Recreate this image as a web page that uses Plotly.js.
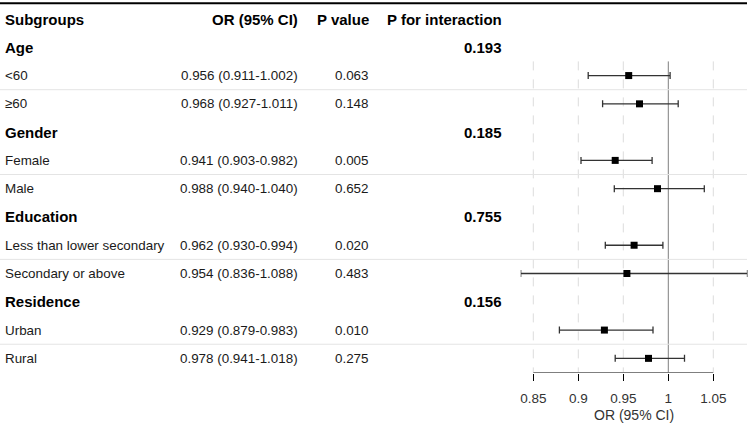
<!DOCTYPE html>
<html><head><meta charset="utf-8">
<script src="https://cdn.plot.ly/plotly-3.0.1.min.js"></script>
<style>html,body{margin:0;padding:0;background:#fff}#chart{width:750px;height:426px}</style>
</head><body><div id="chart"></div>
<script>
// ---- data ----
const groups = ["Age", "Gender", "Education", "Residence"];
const pInteraction = ["0.193", "0.185", "0.755", "0.156"];
const levels = [["<60", "≥60"], ["Female", "Male"], ["Less than lower secondary", "Secondary or above"], ["Urban", "Rural"]];
const orValues = [0.956, 0.968, 0.941, 0.988, 0.962, 0.954, 0.929, 0.978];
const lowerCI = [0.911, 0.927, 0.903, 0.940, 0.930, 0.836, 0.879, 0.941];
const upperCI = [1.002, 1.011, 0.982, 1.040, 0.994, 1.088, 0.983, 1.018];
const pValues = ["0.063", "0.148", "0.005", "0.652", "0.020", "0.483", "0.010", "0.275"];
const headers = ["Subgroups", "OR (95% CI)", "P value", "P for interaction"];
const tickVals = [0.85, 0.9, 0.95, 1, 1.05];
const tickText = ["0.85", "0.9", "0.95", "1", "1.05"];

// ---- layout helpers ----
const W = 750, H = 426;
const FONT = "Liberation Sans, Arial, sans-serif";
const px = v => v / W;
const colX = {sub: px(4), or: px(299), p: px(370), pint: px(503)};

const rows = [];          // row index of each estimate
const annotations = [];
const shapes = [];

function ann(x, y, text, anchor, size, bold, color) {
  annotations.push({xref: 'paper', yref: 'y', x: x, y: y, text: text, xanchor: anchor, yanchor: 'middle',
    showarrow: false, borderpad: 0,
    font: {family: FONT, size: size, color: color, weight: bold ? 700 : 400}});
}

// header
ann(colX.sub, 0, headers[0], 'left', 15, true, '#000');
ann(colX.or, 0, headers[1], 'right', 15, true, '#000');
ann(colX.p, 0, headers[2], 'right', 15, true, '#000');
ann(colX.pint, 0, headers[3], 'right', 15, true, '#000');

let k = 0;
groups.forEach((g, gi) => {
  const gRow = 1 + gi * 3;
  ann(colX.sub, gRow, g, 'left', 15, true, '#000');
  ann(colX.pint, gRow, pInteraction[gi], 'right', 15, true, '#000');
  levels[gi].forEach((lv, li) => {
    const r = gRow + 1 + li;
    rows.push(r);
    ann(colX.sub, r, lv, 'left', 13.4, false, '#1a1a1a');
    const t = orValues[k].toFixed(3) + ' (' + lowerCI[k].toFixed(3) + '-' + upperCI[k].toFixed(3) + ')';
    ann(colX.or, r, t, 'right', 13.4, false, '#1a1a1a');
    ann(colX.p, r, pValues[k], 'right', 13.4, false, '#1a1a1a');
    k++;
  });
  // separator between the two levels
  shapes.push({type: 'line', xref: 'paper', yref: 'y', x0: 0, x1: 747 / W, y0: gRow + 1.5, y1: gRow + 1.5,
    line: {color: '#e4e4e4', width: 1}});
});

// top rule
shapes.push({type: 'line', xref: 'paper', yref: 'y', x0: 0, x1: 747 / W, y0: -0.56, y1: -0.56,
  line: {color: '#000', width: 2}});

// reference / grid lines
tickVals.forEach(v => {
  const isRef = v === 1;
  shapes.push({type: 'line', xref: 'x', yref: 'y', x0: v, x1: v, y0: 1.5, y1: 12.5, layer: 'below',
    line: isRef ? {color: '#7f7f7f', width: 1} : {color: '#dcdcdc', width: 1, dash: 'dash'}});
});
// axis line only across tick span
shapes.push({type: 'line', xref: 'x', yref: 'y', x0: tickVals[0], x1: tickVals[tickVals.length - 1], y0: 12.5, y1: 12.5,
  line: {color: '#000', width: 1}});

const trace = {
  type: 'scatter', mode: 'markers', x: orValues, y: rows, cliponaxis: false, hoverinfo: 'skip',
  marker: {symbol: 'square', size: 7, color: '#000'},
  error_x: {type: 'data', symmetric: false,
    array: upperCI.map((u, i) => u - orValues[i]),
    arrayminus: lowerCI.map((l, i) => orValues[i] - l),
    color: '#333', thickness: 1.3, width: 3.5}
};

const plotBottom = 372.5;
const layout = {
  width: W, height: H, margin: {l: 0, r: 0, t: 0, b: 0, pad: 0},
  paper_bgcolor: '#fff', plot_bgcolor: 'rgba(0,0,0,0)', showlegend: false,
  xaxis: {domain: [520.7 / W, 747.5 / W], range: [lowerCI[5], upperCI[5]], automargin: false,
    showgrid: false, zeroline: false, showline: false,
    tickmode: 'array', tickvals: tickVals, ticktext: tickText,
    ticks: 'outside', ticklen: 7, tickwidth: 1, tickcolor: '#000', ticklabelstandoff: 6,
    tickfont: {family: FONT, size: 13.5, color: '#333'},
    title: {text: 'OR (95% CI)', font: {family: FONT, size: 14, color: '#333'}, standoff: 5}},
  yaxis: {domain: [1 - plotBottom / H, 1], range: [12.5, -19 / 28.28], visible: false, automargin: false},
  annotations: annotations, shapes: shapes
};

Plotly.newPlot('chart', [trace], layout, {displayModeBar: false, staticPlot: true});
</script>
</body></html>
